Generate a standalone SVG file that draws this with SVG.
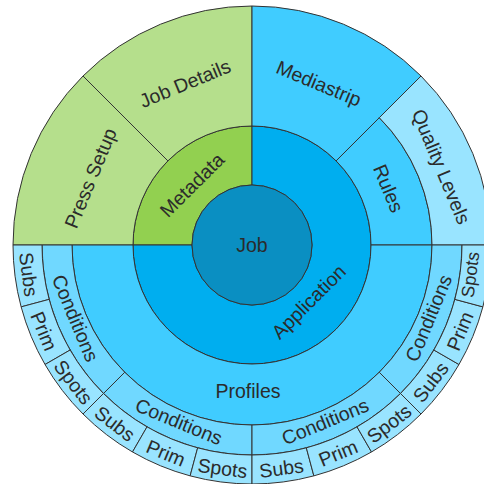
<svg xmlns="http://www.w3.org/2000/svg" width="484" height="484" viewBox="0 0 484 484">
<style>
.seg{stroke:#333;stroke-width:1}
.job{fill:#0a8fc2}
.app{fill:#00aeef}
.l3b{fill:#40ccff}
.l4b{fill:#70d8ff}
.l5b{fill:#99e4ff}
.meta{fill:#92d050}
.l3g{fill:#b5df8c}
text{font-family:"Liberation Sans",Arial,sans-serif;font-size:19.5px;fill:#2b2b2b;text-anchor:middle;dominant-baseline:central}
</style>
<rect width="484" height="484" fill="#fff"/>
<g id="metadata"><path class="seg meta" d="M252,126 A119,119 0 0 0 133,245 L192,245 A60,60 0 0 1 252,185 Z"/><text transform="translate(191.9,184.9) rotate(-45)">Metadata</text></g>
<g id="application"><path class="seg app" d="M252,126 A119,119 0 1 1 133,245 L192,245 A60,60 0 1 0 252,185 Z"/><text transform="translate(308.6,301.6) rotate(-45)">Application</text></g>
<g id="job"><circle class="seg job" cx="252" cy="245" r="60"/><text x="252" y="245">Job</text></g>
<g id="press-setup"><path class="seg l3g" d="M83,76 A239,239 0 0 0 13,245 L133,245 A119,119 0 0 1 167.9,160.9 Z"/><text transform="translate(90.3,178) rotate(-67.5)">Press Setup</text></g>
<g id="job-details"><path class="seg l3g" d="M252,6 A239,239 0 0 0 83,76 L167.9,160.9 A119,119 0 0 1 252,126 Z"/><text transform="translate(185,83.3) rotate(-22.5)">Job Details</text></g>
<g id="mediastrip"><path class="seg l3b" d="M252,6 A239,239 0 0 1 421,76 L336.1,160.9 A119,119 0 0 0 252,126 Z"/><text transform="translate(319,83.3) rotate(22.5)">Mediastrip</text></g>
<g id="rules"><path class="seg l3b" d="M336.1,160.9 L379.3,117.7 A180,180 0 0 1 432,245 L371,245 A119,119 0 0 0 336.1,160.9 Z"/><text transform="translate(388.7,188.4) rotate(67.5)">Rules</text></g>
<g id="quality-levels"><path class="seg l5b" d="M379.3,117.7 L421,76 A239,239 0 0 1 491,245 L432,245 A180,180 0 0 0 379.3,117.7 Z"/><text transform="translate(441.4,166.6) rotate(67.5)">Quality Levels</text></g>
<g id="profiles"><path class="seg l3b" d="M371,245 L432,245 A180,180 0 0 1 72,245 L133,245 A119,119 0 0 0 371,245 Z"/><text x="248" y="391">Profiles</text></g>
<g id="conditions-1"><path class="seg l4b" d="M72,245 L42,245 A210,210 0 0 0 103.51,393.49 L124.72,372.28 A180,180 0 0 1 72,245 Z"/><text transform="translate(75.5,318.1) rotate(67.5)">Conditions</text></g>
<g id="conditions-2"><path class="seg l4b" d="M124.72,372.28 L103.51,393.49 A210,210 0 0 0 252,455 L252,425 A180,180 0 0 1 124.72,372.28 Z"/><text transform="translate(178.9,421.5) rotate(22.5)">Conditions</text></g>
<g id="conditions-3"><path class="seg l4b" d="M252,425 L252,455 A210,210 0 0 0 400.49,393.49 L379.28,372.28 A180,180 0 0 1 252,425 Z"/><text transform="translate(325.1,421.5) rotate(-22.5)">Conditions</text></g>
<g id="conditions-4"><path class="seg l4b" d="M379.28,372.28 L400.49,393.49 A210,210 0 0 0 462,245 L432,245 A180,180 0 0 1 379.28,372.28 Z"/><text transform="translate(428.5,318.1) rotate(-67.5)">Conditions</text></g>
<g id="subs-1"><path class="seg l5b" d="M42,245 L13,245 A239,239 0 0 0 21.14,306.86 L49.15,299.35 A210,210 0 0 1 42,245 Z"/><text transform="translate(28.9,274.4) rotate(82.5)">Subs</text></g>
<g id="prim-1"><path class="seg l5b" d="M49.15,299.35 L21.14,306.86 A239,239 0 0 0 45.02,364.5 L70.13,350 A210,210 0 0 1 49.15,299.35 Z"/><text transform="translate(44.1,331.1) rotate(67.5)">Prim</text></g>
<g id="spots-1"><path class="seg l5b" d="M70.13,350 L45.02,364.5 A239,239 0 0 0 83,414 L103.51,393.49 A210,210 0 0 1 70.13,350 Z"/><text transform="translate(73.5,382) rotate(52.5)">Spots</text></g>
<g id="subs-2"><path class="seg l5b" d="M103.51,393.49 L83,414 A239,239 0 0 0 132.5,451.98 L147,426.87 A210,210 0 0 1 103.51,393.49 Z"/><text transform="translate(115,423.5) rotate(37.5)">Subs</text></g>
<g id="prim-2"><path class="seg l5b" d="M147,426.87 L132.5,451.98 A239,239 0 0 0 190.14,475.86 L197.65,447.85 A210,210 0 0 1 147,426.87 Z"/><text transform="translate(166,452.9) rotate(22.5)">Prim</text></g>
<g id="spots-2"><path class="seg l5b" d="M197.65,447.85 L190.14,475.86 A239,239 0 0 0 252,484 L252,455 A210,210 0 0 1 197.65,447.85 Z"/><text transform="translate(222.6,468.1) rotate(7.5)">Spots</text></g>
<g id="subs-3"><path class="seg l5b" d="M252,455 L252,484 A239,239 0 0 0 313.86,475.86 L306.35,447.85 A210,210 0 0 1 252,455 Z"/><text transform="translate(281.4,468.1) rotate(-7.5)">Subs</text></g>
<g id="prim-3"><path class="seg l5b" d="M306.35,447.85 L313.86,475.86 A239,239 0 0 0 371.5,451.98 L357,426.87 A210,210 0 0 1 306.35,447.85 Z"/><text transform="translate(338,452.9) rotate(-22.5)">Prim</text></g>
<g id="spots-3"><path class="seg l5b" d="M357,426.87 L371.5,451.98 A239,239 0 0 0 421,414 L400.49,393.49 A210,210 0 0 1 357,426.87 Z"/><text transform="translate(389,423.5) rotate(-37.5)">Spots</text></g>
<g id="subs-4"><path class="seg l5b" d="M400.49,393.49 L421,414 A239,239 0 0 0 458.98,364.5 L433.87,350 A210,210 0 0 1 400.49,393.49 Z"/><text transform="translate(430.5,382) rotate(-52.5)">Subs</text></g>
<g id="prim-4"><path class="seg l5b" d="M433.87,350 L458.98,364.5 A239,239 0 0 0 482.86,306.86 L454.85,299.35 A210,210 0 0 1 433.87,350 Z"/><text transform="translate(459.9,331.1) rotate(-67.5)">Prim</text></g>
<g id="spots-4"><path class="seg l5b" d="M454.85,299.35 L482.86,306.86 A239,239 0 0 0 491,245 L462,245 A210,210 0 0 1 454.85,299.35 Z"/><text transform="translate(470.5,274.6) rotate(-82.5)" style="font-size:18px">Spots</text></g>
<g id="connectors"></g>
</svg>
